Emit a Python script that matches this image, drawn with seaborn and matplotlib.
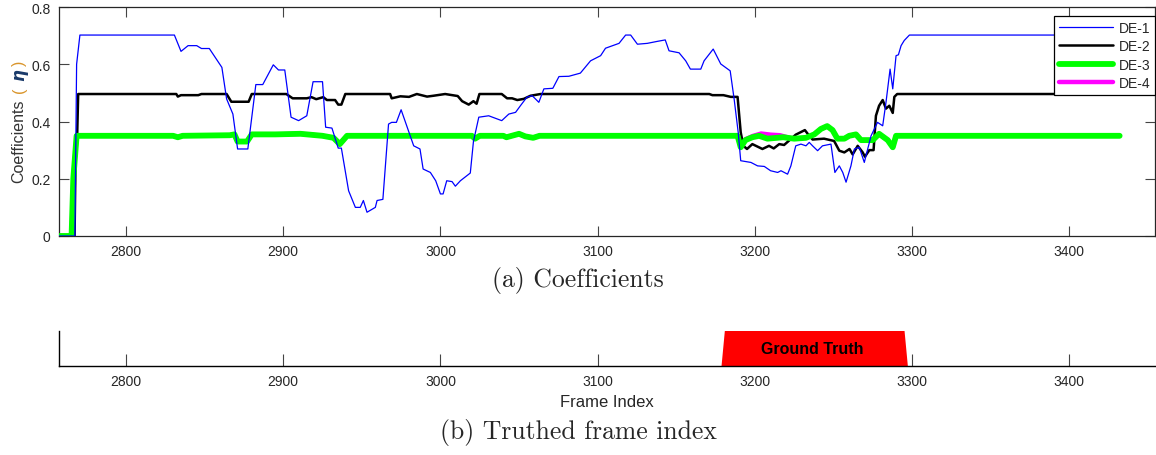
import matplotlib
matplotlib.use("Agg")
import matplotlib.pyplot as plt
import seaborn as sns

# ---- data ----
de1_x = [2757, 2767.5, 2768.6, 2770.7, 2830.8, 2835, 2839.5, 2845, 2848, 2853, 2861, 2864, 2868, 2871,
         2877.5, 2882.6, 2887, 2893.7, 2897, 2901, 2905, 2909.8, 2915, 2919, 2925, 2927, 2931, 2935,
         2937, 2941.6, 2945.9, 2949, 2951, 2953.3, 2958.6, 2959.7, 2963.4, 2967, 2969, 2972, 2975,
         2983, 2987, 2989, 2993.6, 2997, 3000, 3001.7, 3004, 3007.4, 3009.5, 3012.7, 3019, 3021,
         3024.4, 3030.7, 3039, 3043.5, 3047.8, 3051, 3055, 3058.4, 3062.6, 3065.8, 3071.5, 3075.4,
         3081.7, 3089, 3095.5, 3101.9, 3105, 3113.6, 3117.8, 3121, 3125.3, 3131.6, 3138, 3143,
         3145.4, 3151.8, 3156, 3159, 3165.6, 3167.7, 3173.5, 3178.3, 3184.3, 3186.8, 3189.4, 3191,
         3197.5, 3201.7, 3206, 3210, 3214.5, 3216.6, 3220.8, 3222.9, 3226, 3229.3, 3232.5, 3234.6,
         3236.7, 3239.9, 3243, 3248.4, 3250.9, 3253.7, 3255.9, 3258, 3261.1, 3263.3, 3266.4, 3269.6,
         3273.9, 3278, 3281.3, 3283.4, 3286, 3287.7, 3289.8, 3291.3, 3293, 3295, 3298.3, 3432]
de1_y = [0, 0, 0.60, 0.702, 0.702, 0.645, 0.665, 0.665, 0.655, 0.655, 0.589, 0.479, 0.426, 0.304,
         0.304, 0.529, 0.529, 0.598, 0.58, 0.58, 0.415, 0.403, 0.42, 0.539, 0.539, 0.38, 0.377, 0.307,
         0.307, 0.158, 0.1, 0.1, 0.124, 0.083, 0.1, 0.124, 0.128, 0.391, 0.397, 0.397, 0.441,
         0.315, 0.304, 0.234, 0.222, 0.193, 0.147, 0.147, 0.193, 0.19, 0.174, 0.193, 0.22, 0.33,
         0.415, 0.42, 0.403, 0.426, 0.432, 0.456, 0.485, 0.49, 0.467, 0.514, 0.516, 0.557,
         0.558, 0.569, 0.612, 0.63, 0.656, 0.673, 0.702, 0.702, 0.67, 0.673, 0.68, 0.685,
         0.647, 0.64, 0.612, 0.583, 0.583, 0.612, 0.653, 0.601, 0.577, 0.479, 0.362, 0.263,
         0.257, 0.245, 0.243, 0.228, 0.222, 0.228, 0.216, 0.245, 0.315, 0.321, 0.315, 0.327,
         0.315, 0.298, 0.315, 0.321, 0.222, 0.245, 0.222, 0.188, 0.245, 0.304, 0.31, 0.257,
         0.35, 0.397, 0.385, 0.467, 0.583, 0.514, 0.63, 0.633, 0.665, 0.683, 0.702, 0.702]

de2_x = [2757, 2767.3, 2768, 2769, 2769.6, 2832, 2833, 2835, 2846, 2848, 2864, 2867, 2878, 2880,
         2902, 2906, 2915, 2918, 2921, 2925.5, 2927.8, 2933, 2935, 2937, 2939.5, 2968, 2969, 2974.5,
         2980, 2985, 2991.5, 2995.6, 3003, 3011, 3013.8, 3018, 3021, 3023, 3024.8, 3039, 3042.4,
         3045.6, 3048.9, 3053, 3057.3, 3063.7, 3171, 3173, 3180, 3184.7, 3189, 3191, 3192.7, 3195,
         3198.4, 3204.8, 3209, 3212, 3215.5, 3218.6, 3226, 3231.8, 3234.6, 3236.7, 3244, 3250.4,
         3253.7, 3256.9, 3260.2, 3262.2, 3265.4, 3268.6, 3270, 3272.8, 3275.5, 3277, 3279, 3281.3,
         3283.4, 3285.5, 3287.7, 3288.7, 3290.5, 3432]
de2_y = [0, 0, 0.30, 0.36, 0.496, 0.496, 0.487, 0.492, 0.492, 0.496, 0.496, 0.469, 0.469, 0.496,
         0.496, 0.481, 0.481, 0.485, 0.478, 0.485, 0.475, 0.475, 0.459, 0.459, 0.496, 0.496, 0.481, 0.488,
         0.486, 0.496, 0.487, 0.49, 0.496, 0.489, 0.471, 0.459, 0.471, 0.462, 0.496, 0.496, 0.481,
         0.481, 0.475, 0.479, 0.49, 0.496, 0.496, 0.492, 0.492, 0.486, 0.486, 0.362, 0.315, 0.304,
         0.321, 0.304, 0.315, 0.306, 0.321, 0.318, 0.354, 0.37, 0.35, 0.337, 0.34, 0.332,
         0.298, 0.292, 0.304, 0.285, 0.315, 0.292, 0.277, 0.30, 0.30, 0.42, 0.455, 0.475,
         0.445, 0.455, 0.43, 0.486, 0.496, 0.496]

de3_x = [2757, 2765.4, 2766.5, 2768.6, 2830, 2833, 2836, 2866, 2869, 2871, 2877, 2880, 2895, 2911,
         2925, 2932, 2936, 2940.6, 3020, 3022, 3025, 3040, 3042, 3050, 3054, 3059, 3063, 3189, 3191,
         3194, 3198.4, 3202.7, 3208, 3218, 3225, 3232.5, 3237.8, 3242, 3246, 3249.4, 3252.5, 3256.9,
         3260, 3264.3, 3267.5, 3275, 3279, 3284.5, 3287.7, 3289.8, 3432]
de3_y = [0, 0, 0.2, 0.35, 0.35, 0.345, 0.35, 0.352, 0.355, 0.33, 0.33, 0.355, 0.355, 0.357,
         0.35, 0.343, 0.321, 0.35, 0.35, 0.34, 0.35, 0.35, 0.345, 0.357, 0.348, 0.343, 0.35, 0.35, 0.31,
         0.335, 0.345, 0.35, 0.34, 0.345, 0.34, 0.343, 0.355, 0.374, 0.384, 0.37, 0.34, 0.34,
         0.35, 0.355, 0.335, 0.335, 0.357, 0.335, 0.31, 0.35, 0.35]

# DE-4 follows DE-3 except for a short stretch after 3190 where it peeks out above it
de4_x = [2757, 2765.4, 2766.5, 2768.6, 2830, 2833, 2836, 2866, 2869, 2871, 2877, 2880, 2895, 2911,
         2925, 2932, 2936, 2940.6, 3020, 3022, 3025, 3040, 3042, 3050, 3054, 3059, 3063, 3189, 3191,
         3194, 3199, 3204, 3210, 3216, 3222, 3225, 3232.5, 3237.8, 3242, 3246, 3249.4, 3252.5, 3256.9,
         3260, 3264.3, 3267.5, 3275, 3279, 3284.5, 3287.7, 3289.8, 3432]
de4_y = [0, 0, 0.2, 0.35, 0.35, 0.345, 0.35, 0.352, 0.355, 0.33, 0.33, 0.355, 0.355, 0.357,
         0.35, 0.343, 0.321, 0.35, 0.35, 0.34, 0.35, 0.35, 0.345, 0.357, 0.348, 0.343, 0.35, 0.35, 0.31,
         0.338, 0.35, 0.358, 0.354, 0.352, 0.343, 0.34, 0.343, 0.355, 0.374, 0.384, 0.37, 0.34, 0.34,
         0.35, 0.355, 0.335, 0.335, 0.357, 0.335, 0.31, 0.35, 0.35]

gt_bottom_x = [3178.8, 3297.3]
gt_top_x = [3180.9, 3295.2]

x_ticks = [2800, 2900, 3000, 3100, 3200, 3300, 3400]
y_ticks = [0, 0.2, 0.4, 0.6, 0.8]
y_tick_labels = ["0", "0.2", "0.4", "0.6", "0.8"]

# ---- style ----
sns.set_style("ticks")
plt.rcParams["font.family"] = ["Liberation Sans", "DejaVu Sans"]

W, H = 1156, 456
XLIM = (2757.4, 3454.5)
fig = plt.figure(figsize=(W / 100, H / 100), dpi=100)

# (a) coefficients
ax1 = fig.add_axes([59 / W, 1 - 237 / H, (1155 - 59) / W, (237 - 8) / H])
series = [
    ("DE-1", de1_x, de1_y, "#0000ff", 0.9, 5),
    ("DE-2", de2_x, de2_y, "black", 1.8, 3),
    ("DE-3", de3_x, de3_y, "#00ff00", 4.2, 4),
    ("DE-4", de4_x, de4_y, "#ff00ff", 3.2, 2),
]
for name, xs, ys, col, lw, z in series:
    sns.lineplot(x=xs, y=ys, ax=ax1, color=col, linewidth=lw, label=name,
                 sort=False, estimator=None, zorder=z)

ax1.set_xlim(*XLIM)
ax1.set_ylim(0, 0.8)
ax1.set_xticks(x_ticks)
ax1.set_xticklabels([str(t) for t in x_ticks])
ax1.set_yticks(y_ticks)
ax1.set_yticklabels(y_tick_labels)
ax1.tick_params(direction="in", length=7, width=0.8, color="#444444", labelcolor="#262626",
                labelsize=10, top=True, right=True, pad=6)
for s in ax1.spines.values():
    s.set_visible(True)
    s.set_color("#262626")
    s.set_linewidth(0.9)
ax1.set_xlabel("")
ax1.set_ylabel("")

leg = ax1.legend(loc="upper right", bbox_to_anchor=(1.0, 1 - 9 / 229), borderaxespad=0,
                 fontsize=10, handlelength=3.9, handletextpad=0.4, labelspacing=0.32,
                 borderpad=0.35, frameon=True, fancybox=False, framealpha=1)
leg.get_frame().set_edgecolor("black")
leg.get_frame().set_linewidth(0.9)
leg.set_zorder(10)

# y label in pieces (mixed colours)
fig.text(19 / W, 1 - 141 / H, "Coefficients", rotation=90, ha="center", va="center",
         fontsize=11.5, color="#333333")
fig.text(19 / W, 1 - 90 / H, "(", rotation=90, ha="center", va="center",
         fontsize=11.5, color="#d9942a")
fig.text(19 / W, 1 - 75 / H, "η", rotation=90, ha="center", va="center",
         fontsize=12, color="#1a3a6a", fontweight="bold", fontstyle="italic",
         family=["DejaVu Sans"])
fig.text(19 / W, 1 - 63 / H, ")", rotation=90, ha="center", va="center",
         fontsize=11.5, color="#d9942a")

fig.text(0.5, 1 - 281 / H, "(a) Coefficients", ha="center", va="center",
         fontsize=18.5, family=["cmr10"])

# (b) truthed frame index
ax2 = fig.add_axes([59 / W, 1 - 367 / H, (1155 - 59) / W, (367 - 332) / H])
ax2.fill([gt_bottom_x[0], gt_top_x[0], gt_top_x[1], gt_bottom_x[1]], [0, 1, 1, 0],
         color="#ff0000", linewidth=0)
ax2.text(sum(gt_top_x) / 2 - 1.5, 0.5, "Ground Truth", ha="center", va="center",
         fontsize=11.5, fontweight="bold", color="black")
ax2.set_xlim(*XLIM)
ax2.set_ylim(0, 1)
ax2.set_yticks([])
ax2.set_xticks(x_ticks)
ax2.set_xticklabels([str(t) for t in x_ticks])
ax2.tick_params(axis="x", direction="in", length=8.5, width=0.8, color="#444444",
                labelcolor="#262626", labelsize=10, pad=6)
ax2.spines["top"].set_visible(False)
ax2.spines["right"].set_visible(False)
for k in ("left", "bottom"):
    ax2.spines[k].set_color("black")
    ax2.spines[k].set_linewidth(1.0)
ax2.set_xlabel("Frame Index", fontsize=12, color="#262626", labelpad=4)

fig.text(0.5, 1 - 433 / H, "(b) Truthed frame index", ha="center", va="center",
         fontsize=18.5, family=["cmr10"])

fig.savefig("out.png", dpi=100)
